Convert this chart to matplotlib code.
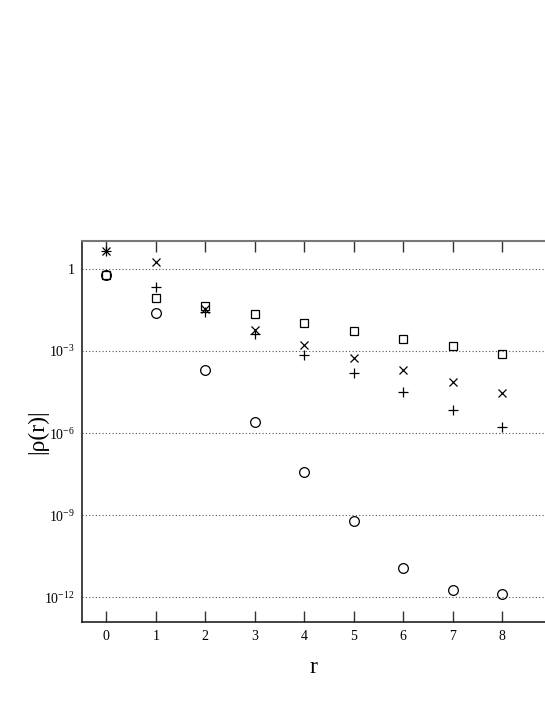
import numpy as np
import matplotlib
matplotlib.use("Agg")
import matplotlib.pyplot as plt
from matplotlib.ticker import FixedLocator, FixedFormatter

r = [0, 1, 2, 3, 4, 5, 6, 7, 8]
# log10 values
log_circle = [-0.22, -1.62, -3.70, -5.59, -7.42, -9.23, -10.95, -11.74, -11.89]
log_square = [-0.22, -1.06, -1.35, -1.66, -1.96, -2.26, -2.55, -2.83, -3.10]
log_cross = [0.66, 0.245, -1.47, -2.23, -2.78, -3.27, -3.71, -4.13, -4.55]
log_plus = [0.66, -0.65, -1.56, -2.39, -3.14, -3.82, -4.49, -5.15, -5.78]

ytick_vals = [1e-12, 1e-9, 1e-6, 1e-3, 1]
ytick_labels = [r"$10^{-12}$", r"$10^{-9}$", r"$10^{-6}$", r"$10^{-3}$", "1"]

plt.rcParams['font.family'] = ['Liberation Serif', 'DejaVu Serif']
plt.rcParams['mathtext.fontset'] = 'custom'
plt.rcParams['mathtext.rm'] = 'Liberation Serif'
plt.rcParams['mathtext.it'] = 'Liberation Serif:italic'

fig = plt.figure(figsize=(5.45, 7.05), dpi=100)
ax = fig.add_axes([82/545, 1-622/705, 1-82/545, (622-241)/705])

def pw(v):
    return 10.0 ** np.array(v)

ax.plot(r, pw(log_circle), linestyle='none', marker='o', ms=7, mfc='none', mec='black', mew=0.9)
ax.plot(r, pw(log_square), linestyle='none', marker='s', ms=5.6, mfc='none', mec='black', mew=0.9)
ax.plot(r, pw(log_cross), linestyle='none', marker='x', ms=5.2, mec='black', mew=0.9)
ax.plot(r, pw(log_plus), linestyle='none', marker='+', ms=7.2, mec='black', mew=0.9)

ax.set_yscale('log')
ax.set_xlim(-0.49, 8.865)
ax.set_ylim(10**-12.91, 10**1.025)

ax.set_xticks(r)
ax.set_xticklabels([str(v) for v in r])
ax.yaxis.set_major_locator(FixedLocator(ytick_vals))
ax.yaxis.set_major_formatter(FixedFormatter(ytick_labels))
ax.yaxis.set_minor_locator(FixedLocator([]))

for y in ytick_vals:
    ax.axhline(y, color='#555555', linestyle=(0, (1, 2)), linewidth=0.8, zorder=0)

ax.tick_params(axis='x', direction='in', length=8, width=1, top=True, bottom=True,
               labelsize=10, pad=6, color='#333333')
ax.tick_params(axis='y', length=0, labelsize=10, pad=5)

ax.spines['right'].set_visible(False)
ax.spines['top'].set_color('#777777')
ax.spines['top'].set_linewidth(1.5)
ax.spines['left'].set_linewidth(1.2)
ax.spines['bottom'].set_linewidth(1.2)
ax.spines['left'].set_color('#222222')
ax.spines['bottom'].set_color('#222222')

ax.set_xlabel('r', fontsize=17, labelpad=10)
ax.set_ylabel('|ρ(r)|', fontsize=17)
ax.yaxis.set_label_coords(-0.073, 0.5)

fig.savefig('out.png', dpi=100)
